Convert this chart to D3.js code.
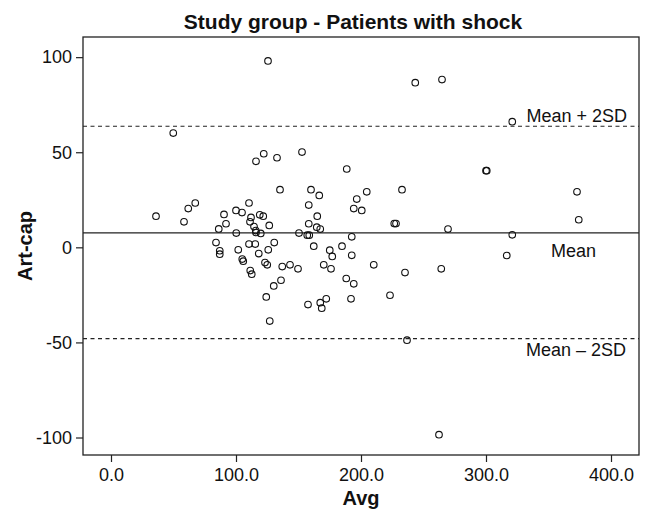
<!DOCTYPE html>
<html>
<head>
<meta charset="utf-8">
<script src="https://cdn.jsdelivr.net/npm/d3@7"></script>
<style>
  body { margin: 0; background: #fff; }
  text { font-family: "Liberation Sans", Arial, Helvetica, sans-serif; fill: #111; }
</style>
</head>
<body>
<div id="chart"></div>
<script>
// Bland-Altman style data
let avg = [125.6, 243.4, 264.8, 321, 49.8, 122.2, 152.8, 132.8, 116, 188.6,
  300, 300.6, 135.2, 160, 166.6, 232.8, 204.6, 196.6, 158.2, 194.2,
  200.6, 165, 372.8, 374.2, 158.2, 164.6, 167.4, 226.6, 228, 269.6,
  150.4, 157, 158.6, 192.6, 321, 162.2, 175, 177, 184.8, 192.6,
  316.6, 137, 143.2, 149.6, 170.2, 176, 210.2, 235.2, 264.2, 136,
  130.2, 188.2, 194.2, 223.2, 124.2, 157.6, 167.4, 168.6, 172.2, 192,
  127, 236.8, 262.4, 36, 58.4, 61.8, 67.4, 90.4, 92, 86.2,
  100, 104.8, 110.4, 112, 111.2, 119, 121.8, 114.4, 115.8, 126.6,
  100.2, 116, 119.8, 84, 87, 87, 101.8, 110.4, 115.4, 118.2,
  125.8, 130.6, 105, 105.8, 123.2, 125, 111.4, 112.6]
let diff = [98, 86.6, 88.2, 66.1, 60.1, 49.2, 50.1, 47.1, 45.2, 41.2,
  40.3, 40.3, 30.3, 30.3, 27.3, 30.3, 29.2, 25.4, 22.2, 20.4,
  19.4, 16.4, 29.2, 14.5, 12.4, 10.6, 9.6, 12.5, 12.5, 9.6,
  7.5, 6.4, 6.4, 5.5, 6.6, 0.6, -1.5, -4.8, 0.6, -4.2,
  -4.3, -10.1, -9.2, -11.3, -9.2, -11.3, -9.2, -13.3, -11.3, -17.3,
  -20.3, -16.4, -19.2, -25.2, -26.1, -30.1, -29.1, -32, -27.1, -27.1,
  -38.8, -48.8, -98.5, 16.4, 13.4, 20.4, 23.3, 17.3, 12.4, 9.7,
  19.4, 18.3, 23.3, 15.7, 13.4, 17.1, 16.4, 10.9, 8.8, 11.5,
  7.5, 7.8, 7.3, 2.5, -1.8, -3.6, -1.3, 1.7, 1.7, -3.3,
  -1.3, 2.5, -6.2, -7.3, -8, -9.2, -12.2, -14.1]

let meanVal = 7.6
let upperVal = 63.7
let lowerVal = -48
let xTicks = [0, 100, 200, 300, 400]
let yTicks = [-100, -50, 0, 50, 100]

let width = 646
let height = 511
let margin = { left: 83, right: 7, top: 37, bottom: 56 }

let svg = d3.select("#chart")
  .append("svg")
  .attr("width", width)
  .attr("height", height)

let x = d3.scaleLinear()
  .domain([-22.4, 422.4])
  .range([margin.left, width - margin.right])

let y = d3.scaleLinear()
  .domain([-109.2, 110.6])
  .range([height - margin.bottom, margin.top])

// axes
svg.append("g")
  .attr("transform", "translate(0," + (height - margin.bottom) + ")")
  .call(d3.axisBottom(x).tickValues(xTicks).tickFormat(d => d.toFixed(1)).tickSizeOuter(0).tickSize(7).tickPadding(6))
svg.append("g")
  .attr("transform", "translate(" + margin.left + ",0)")
  .call(d3.axisLeft(y).tickValues(yTicks).tickFormat(d => String(d)).tickSizeOuter(0).tickSize(7).tickPadding(4))

svg.selectAll(".domain").remove()
svg.selectAll(".tick line").attr("stroke", "#222").attr("stroke-width", 1.2)
svg.selectAll(".tick text")
  .style("font-family", "Liberation Sans, Arial, sans-serif")
  .style("font-size", "18px")
  .attr("fill", "#111")

// plot frame
svg.append("rect")
  .attr("x", x.range()[0])
  .attr("y", y.range()[1])
  .attr("width", x.range()[1] - x.range()[0])
  .attr("height", y.range()[0] - y.range()[1])
  .attr("fill", "none")
  .attr("stroke", "#222")
  .attr("stroke-width", 1.3)

// mean and limits
let lines = [
  { v: meanVal, dash: null },
  { v: upperVal, dash: "4,3.5" },
  { v: lowerVal, dash: "4,3.5" }
]
svg.selectAll(".ref")
  .data(lines)
  .enter()
  .append("line")
    .attr("x1", x.range()[0])
    .attr("x2", x.range()[1])
    .attr("y1", d => y(d.v))
    .attr("y2", d => y(d.v))
    .attr("stroke", "#222")
    .attr("stroke-width", 1.1)
    .attr("stroke-dasharray", d => d.dash)

// points
svg.append("g")
  .selectAll("circle")
  .data(avg.map((a, i) => ({ a: a, d: diff[i] })))
  .enter()
  .append("circle")
    .attr("cx", d => x(d.a))
    .attr("cy", d => y(d.d))
    .attr("r", 3.3)
    .attr("fill", "none")
    .attr("stroke", "#111")
    .attr("stroke-width", 1.1)

// line labels
svg.append("text").attr("x", 627).attr("y", y(upperVal) - 4)
  .attr("text-anchor", "end").style("font-size", "18px").text("Mean + 2SD")
svg.append("text").attr("x", 596).attr("y", y(meanVal) + 24)
  .attr("text-anchor", "end").style("font-size", "18px").text("Mean")
svg.append("text").attr("x", 626).attr("y", y(lowerVal) + 17)
  .attr("text-anchor", "end").style("font-size", "18px").text("Mean \u2013 2SD")

// titles
svg.append("text").attr("x", 353).attr("y", 29)
  .attr("text-anchor", "middle").style("font-size", "21px").style("font-weight", "bold")
  .text("Study group - Patients with shock")
svg.append("text").attr("x", 361).attr("y", 505)
  .attr("text-anchor", "middle").style("font-size", "20px").style("font-weight", "bold")
  .text("Avg")
svg.append("text")
  .attr("transform", "translate(32,246) rotate(-90)")
  .attr("text-anchor", "middle").style("font-size", "20px").style("font-weight", "bold")
  .text("Art-cap")
</script>
</body>
</html>
